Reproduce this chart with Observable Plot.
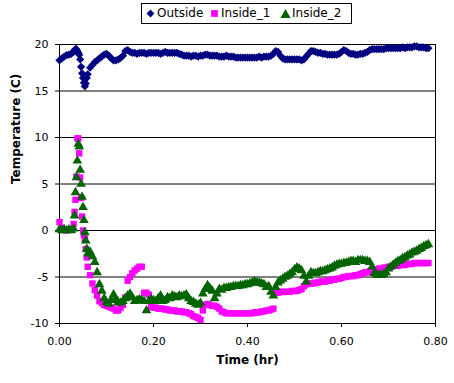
<!DOCTYPE html>
<html>
<head>
<meta charset="utf-8">
<script src="https://cdn.jsdelivr.net/npm/d3@7"></script>
<script src="https://cdn.jsdelivr.net/npm/@observablehq/plot@0.6"></script>
<style>
  html, body { margin: 0; padding: 0; background: #fff; }
  body { width: 454px; height: 383px; overflow: hidden; font-family: "DejaVu Sans", Verdana, sans-serif; }
  #legend { position: relative; width: 454px; height: 30px; }
  #legend .box { position: absolute; left: 141px; top: 3px; width: 209px; height: 19px; border: 1px solid #000; }
  #legend .item { position: absolute; top: 0; font-size: 12px; line-height: 19px; color: #000; white-space: nowrap; }
  #legend svg.sym { position: absolute; }
  #chart svg { display: block; }
</style>
</head>
<body>
<div id="legend"></div>
<div id="chart"></div>
<script>
// Time (hr) sample points
const time = [
  0, .005, .01, .015, .02, .025, .03,
  .032, .034, .036, .038, .04, .042, .044, .046, .048, .05, .052, .054, .056, .058, .06,
  .065, .07, .075, .08, .085, .09, .095, .1,
  .105, .11, .115, .12, .125, .13, .135, .14, .145, .15,
  .155, .16, .165, .17, .175, .18, .185, .19, .195, .2,
  .205, .21, .215, .22, .225, .23, .235, .24, .245, .25,
  .255, .26, .265, .27, .275, .28, .285, .29, .295, .3,
  .305, .31, .315, .32, .325, .33, .335, .34, .345, .35,
  .355, .36, .365, .37, .375, .38, .385, .39, .395, .4,
  .405, .41, .415, .42, .425, .43, .435, .44, .445, .45,
  .455, .46, .465, .47, .475, .48, .485, .49, .495, .5,
  .505, .51, .515, .52, .525, .53, .535, .54, .545, .55,
  .555, .56, .565, .57, .575, .58, .585, .59, .595, .6,
  .605, .61, .615, .62, .625, .63, .635, .64, .645, .65,
  .655, .66, .665, .67, .675, .68, .685, .69, .695, .7,
  .705, .71, .715, .72, .725, .73, .735, .74, .745, .75,
  .755, .76, .765, .77, .775, .78, .785
];

const outsideTemp = [
  18.3, 18.5, 18.7, 18.85, 18.9, 19.0, 19.2,
  19.4, 19.5, 19.5, 19.3, 19.1, 18.9, 18.4, 17.6, 16.9, 16.4, 15.9, 15.5, 15.8, 16.4, 16.8,
  17.5, 17.8, 18.1, 18.3, 18.5, 18.7, 18.9, 19.0,
  18.8, 18.5, 18.3, 18.3, 18.4, 18.55, 18.8, 19.3, 19.4, 19.2,
  19.1, 19.1, 19.0, 19.1, 19.1, 19.1, 19.0, 19.1, 19.1, 19.1,
  19.1, 19.1, 19.0, 19.1, 19.2, 19.1, 19.1, 19.1, 19.1, 19.1,
  19.0, 18.9, 18.8, 18.8, 18.8, 18.7, 18.8, 18.8, 18.7, 18.8,
  18.8, 18.9, 18.9, 18.8, 18.8, 18.8, 18.8, 18.7, 18.7, 18.7,
  18.8, 18.7, 18.7, 18.7, 18.6, 18.6, 18.6, 18.6, 18.6, 18.6,
  18.6, 18.6, 18.6, 18.6, 18.7, 18.6, 18.7, 18.7, 18.7, 18.8,
  19.0, 19.3, 19.2, 18.8, 18.5, 18.4, 18.4, 18.4, 18.4, 18.4,
  18.4, 18.4, 18.3, 18.4, 18.7, 19.0, 19.3, 19.3, 19.2, 19.1,
  19.1, 19.0, 19.0, 18.9, 18.9, 18.9, 18.9, 18.9, 19.0, 19.2,
  19.4, 19.3, 19.1, 19.0, 19.0, 18.9, 18.9, 19.0, 19.0, 19.1,
  19.2, 19.4, 19.5, 19.5, 19.5, 19.5, 19.5, 19.5, 19.6, 19.6,
  19.6, 19.6, 19.6, 19.6, 19.6, 19.7, 19.6, 19.7, 19.7, 19.7,
  19.8, 19.8, 19.7, 19.7, 19.7, 19.6, 19.6
];

const inside1Temp = [
  0.9, 0.3, 0.1, 0.0, 0.1, 0.1, 0.7,
  2.0, 3.3, 5.8, 9.9, 9.9, 8.3, 5.7, 3.5, 1.5, 0.0, -0.5, -0.9, -2.0, -2.9, -3.9,
  -4.8, -5.7, -6.4, -7.0, -7.6, -7.8, -8.0, -8.1,
  -8.2, -8.3, -8.4, -8.6, -8.6, -8.3, -8.0, -7.2, -5.4, -5.0,
  -4.6, -4.3, -4.1, -3.9, -3.9, -6.7, -6.7, -6.9, -8.2, -8.3,
  -8.3, -8.4, -8.4, -8.4, -8.5, -8.5, -8.6, -8.6, -8.6, -8.7,
  -8.7, -8.7, -8.8, -8.8, -8.9, -9.0, -9.2, -9.3, -9.4, -9.6,
  -8.6, -8.0, -7.9, -8.0, -8.1, -8.1, -8.2, -8.4, -8.7, -8.8,
  -8.9, -8.9, -8.9, -8.9, -8.9, -8.9, -8.9, -8.9, -8.9, -8.9,
  -8.9, -8.9, -8.8, -8.8, -8.8, -8.7, -8.7, -8.6, -8.6, -8.5,
  -8.4, -6.7, -6.7, -6.6, -6.6, -6.6, -6.6, -6.6, -6.5, -6.5,
  -6.5, -6.4, -6.3, -6.0, -5.8, -5.7, -5.7, -5.7, -5.6, -5.6,
  -5.5, -5.5, -5.5, -5.4, -5.4, -5.3, -5.3, -5.2, -5.2, -5.1,
  -5.0, -5.0, -4.9, -4.9, -4.9, -4.8, -4.8, -4.7, -4.6, -4.5,
  -4.5, -4.4, -4.4, -4.3, -4.2, -4.1, -4.1, -4.0, -4.0, -3.9,
  -3.9, -3.8, -3.8, -3.8, -3.7, -3.7, -3.7, -3.6, -3.6, -3.6,
  -3.5, -3.5, -3.5, -3.5, -3.5, -3.5, -3.5
];

const inside2Temp = [
  0.1, 0.0, 0.1, 0.0, 0.1, 0.0, 0.2,
  1.6, 4.1, 5.7, 7.5, 9.3, 9.0, 6.5, 5.0, 3.6, 2.5, 1.1, -0.2, -1.1, -2.0, -2.5,
  -2.3, -2.8, -3.4, -4.5, -5.8, -6.5, -7.3, -7.7,
  -7.9, -7.5, -6.9, -7.4, -7.7, -7.8, -7.6, -7.3, -7.0, -6.8,
  -7.2, -7.6, -7.5, -7.4, -7.5, -7.6, -8.6, -7.6, -7.4, -7.5,
  -7.6, -7.3, -7.0, -7.6, -7.5, -7.2, -7.3, -7.0, -7.1, -7.2,
  -7.0, -7.1, -7.0, -6.9, -7.3, -7.6, -7.7, -7.9, -8.0, -7.8,
  -6.8, -6.3, -5.9, -6.2, -6.5, -7.3, -6.8, -6.3, -6.4, -6.2,
  -6.2, -6.1, -6.1, -6.0, -6.0, -6.0, -5.9, -5.9, -5.8, -5.8,
  -5.7, -5.6, -5.5, -5.6, -5.6, -5.7, -5.8, -6.1, -6.0, -6.6,
  -7.0, -6.1, -5.6, -5.4, -5.2, -5.0, -4.9, -4.7, -4.5, -4.2,
  -4.0, -4.1, -4.3, -4.9, -5.5, -4.9, -4.5, -4.6, -4.6, -4.5,
  -4.4, -4.4, -4.3, -4.2, -4.1, -4.0, -3.8, -3.7, -3.6, -3.6,
  -3.5, -3.5, -3.4, -3.3, -3.3, -3.4, -3.2, -3.2, -3.2, -3.3,
  -3.3, -3.4, -3.9, -4.6, -4.8, -4.8, -4.8, -4.7, -4.5, -4.1,
  -3.9, -3.7, -3.5, -3.3, -3.2, -3.0, -2.9, -2.7, -2.6, -2.4,
  -2.3, -2.2, -2.0, -1.9, -1.7, -1.6, -1.5
];

const seriesNames = ["Outside", "Inside_1", "Inside_2"];
const seriesColors = ["#000080", "#ff00ff", "#006400"];
const seriesSymbols = ["diamond2", "square", "triangle"];
const xTicks = [0, 0.2, 0.4, 0.6, 0.8];
const yTicks = [-10, -5, 0, 5, 10, 15, 20];
const xLabel = "Time (hr)";
const yLabel = "Temperature (C)";

const rows = (vals) => time.map((t, i) => ({t, v: vals[i]}));
const outsideRows = rows(outsideTemp);
const inside1Rows = rows(inside1Temp);
const inside2Rows = rows(inside2Temp);

const chart = Plot.plot({
  width: 454,
  height: 353,
  marginTop: 14,
  marginBottom: 60,
  marginLeft: 59,
  marginRight: 19,
  x: {domain: [0, 0.8]},
  y: {domain: [-10, 20]},
  style: {fontFamily: "'DejaVu Sans', Verdana, sans-serif", fontSize: "11px", color: "#000", background: "#fff"},
  marks: [
    Plot.ruleY(yTicks, {stroke: "#000", strokeWidth: 1}),
    Plot.frame({stroke: "#000"}),
    Plot.axisY({ticks: yTicks, tickSize: 4, tickPadding: 7, tickFormat: d => String(d), label: null}),
    Plot.axisX({ticks: xTicks, tickSize: 4, tickPadding: 10, tickFormat: d => d.toFixed(2), label: null}),
    Plot.dot(outsideRows, {x: "t", y: "v", symbol: seriesSymbols[0], r: 3.7, fill: seriesColors[0]}),
    Plot.dot(inside1Rows, {x: "t", y: "v", symbol: seriesSymbols[1], r: 3.6, fill: seriesColors[1]}),
    Plot.dot(inside2Rows, {x: "t", y: "v", symbol: seriesSymbols[2], r: 3.6, fill: seriesColors[2]}),
    Plot.text([xLabel], {text: d => d, frameAnchor: "bottom", dy: 40, fontWeight: "bold", fontSize: 12}),
    Plot.text([yLabel], {text: d => d, frameAnchor: "left", dx: -43, rotate: -90, fontWeight: "bold", fontSize: 12})
  ]
});
document.getElementById("chart").appendChild(chart);

// Legend
const legend = document.getElementById("legend");
const box = document.createElement("div");
box.className = "box";
legend.appendChild(box);
const symLeft = [4, 68, 139];
const textLeft = [15, 79, 150];
const symPaths = {
  diamond2: "M4,0.5 L7.5,4 L4,7.5 L0.5,4 Z",
  square: "M1,1 H7 V7 H1 Z",
  triangle: "M4,0 L8.5,8 L-0.5,8 Z"
};
seriesNames.forEach((name, i) => {
  const ns = "http://www.w3.org/2000/svg";
  const s = document.createElementNS(ns, "svg");
  s.setAttribute("class", "sym");
  s.setAttribute("width", 9);
  s.setAttribute("height", 9);
  s.setAttribute("viewBox", "0 0 8 8");
  s.style.left = symLeft[i] + "px";
  s.style.top = "5px";
  s.style.overflow = "visible";
  const p = document.createElementNS(ns, "path");
  p.setAttribute("d", symPaths[seriesSymbols[i]]);
  p.setAttribute("fill", seriesColors[i]);
  s.appendChild(p);
  box.appendChild(s);
  const t = document.createElement("span");
  t.className = "item";
  t.style.left = textLeft[i] + "px";
  t.textContent = name;
  box.appendChild(t);
});
</script>
</body>
</html>
